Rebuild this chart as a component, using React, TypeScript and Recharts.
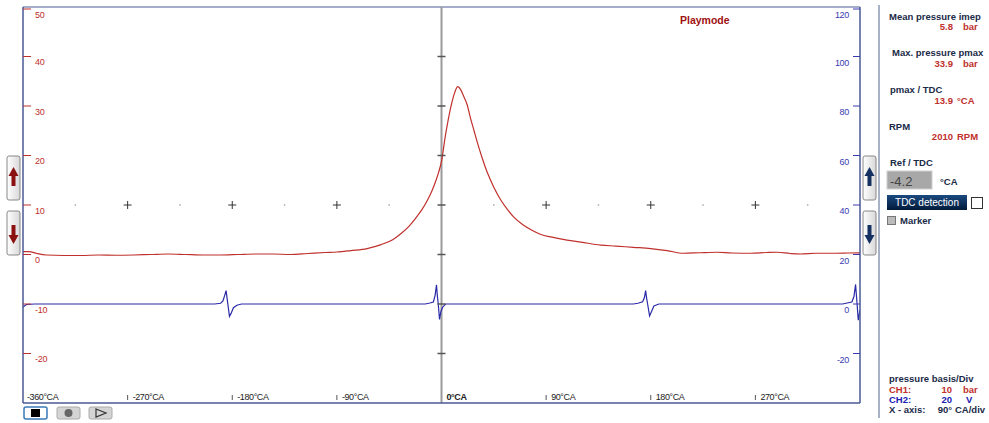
import { ComposedChart, Line, Scatter, XAxis, YAxis, ReferenceLine } from 'recharts';

// crank angle (°CA) and cylinder pressure (bar), CH1
const pressureAngles = [
  -360, -355, -348, -340, -325, -310, -295, -280, -265, -250, -235, -220, -205, -190, -175, -160, -145, -130,
  -115, -100, -90, -78, -64, -52, -42, -35, -28, -22, -17, -12, -8, -5, -2.5, 0, 3, 6, 9, 11.5, 13.9, 16.5,
  19, 22, 25, 28, 31, 35, 39.5, 45, 51, 57, 62, 70, 77, 85, 95, 108, 120, 137, 150, 165, 180, 194, 208, 222,
  237, 250, 266, 280, 289, 300, 309, 322, 337, 350, 360,
];
const pressureBar = [
  0.6, 0.6, 0.2, -0.1, -0.2, -0.2, -0.1, -0.15, -0.1, 0.0, 0.1, 0.0, -0.1, -0.1, 0.0, 0.1, 0.1, 0.0,
  0.2, 0.4, 0.5, 0.8, 1.2, 2.0, 3.0, 4.2, 5.7, 7.4, 9.0, 11.0, 13.0, 14.8, 16.6, 18.8, 23.5, 27.5, 30.8, 32.8, 33.9, 33.3,
  32.0, 30.3, 27.5, 25.0, 22.5, 19.5, 16.5, 13.6, 11.0, 9.0, 7.6, 6.0, 5.0, 4.1, 3.5, 2.9, 2.5, 1.9, 1.7, 1.45, 1.2, 0.8, 0.25, 0.35,
  0.45, 0.3, 0.25, 0.4, 0.45, 0.2, 0.1, 0.25, 0.25, 0.3, 0.35,
];

// trigger signal (V), CH2
const signalAngles = [
  -360, -357, -350, -195, -190, -188, -186.5, -185.3, -184.5, -183.8, -182.4, -181, -179, -176, -172,
  -14, -10, -7, -5.5, -4.3, -3.6, -2.8, -1.7, -0.5, 1, 3.5,
  165, 169, 173, 174.5, 175.6, 176.4, 177.3, 179, 180.5, 182.7, 187,
  345, 350, 353, 354.8, 356.2, 357, 357.5, 358.5, 360,
];
const signalVolt = [
  -1.2, -0.2, 0, 0, 0.3, 1.2, 3.5, 5.4, 2.5, 0, -5.0, -3.8, -1.5, -0.5, 0,
  0, 0.4, 0.8, 3.5, 7.7, 3.5, 0, -6.2, -3, -1.3, 0,
  0, 0.3, 0.9, 2.5, 5.4, 2.5, 0, -4.8, -3.2, -0.8, 0,
  0, 0.5, 0.8, 3, 7.9, 3, 0, -6.5, -2.4,
];

const angleTicks = [-360, -270, -180, -90, 0, 90, 180, 270];
const pressureTicks = [-20, -10, 0, 10, 20, 30, 40, 50];
const voltTicks = [-20, 0, 20, 40, 60, 80, 100, 120];
const crossAngles = [-270, -180, -90, 90, 180, 270];
const dotAngles = [-315, -225, -135, -45, 45, 135, 225, 315];
const centreMarks = [-20, -10, 0, 10, 20, 30, 40];

const pressureData = pressureAngles.map((a, i) => ({ angle: a, p: pressureBar[i] }));
const signalData = signalAngles.map((a, i) => ({ angle: a, v: signalVolt[i] }));
const crossData = crossAngles.map((a) => ({ angle: a, p: 10 }));
const dotData = dotAngles.map((a) => ({ angle: a, p: 10 }));
const markData = centreMarks.map((m) => ({ angle: 0, p: m }));

const FONT = '"Liberation Sans", Arial, sans-serif';
const RED = '#c0302c';
const BLUE = '#3a3ab0';
const NAVY = '#1a2a48';
const FRAME = '#4a5a95';

const LeftTick = (props: any) => {
  const { x, y, payload } = props;
  return (
    <g>
      <line x1={x} x2={x + 8} y1={y} y2={y} stroke={RED} strokeWidth={1} />
      <text x={x + 12} y={y + 8.5} fill={RED} fontSize={9} fontFamily={FONT} letterSpacing={-0.3}>
        {payload.value}
      </text>
    </g>
  );
};

const RightTick = (props: any) => {
  const { x, y, payload } = props;
  return (
    <g>
      <line x1={x - 7} x2={x} y1={y} y2={y} stroke={BLUE} strokeWidth={1} />
      <text x={x - 11} y={y + 9} fill={BLUE} fontSize={9} fontFamily={FONT} textAnchor="end" letterSpacing={-0.3}>
        {payload.value}
      </text>
    </g>
  );
};

const AngleTick = (props: any) => {
  const { x, y, payload } = props;
  const v = payload.value;
  return (
    <g>
      {v !== -360 && v !== 0 && <line x1={x} x2={x} y1={y - 8} y2={y - 3} stroke="#555" strokeWidth={1} />}
      <text
        x={x + (v === -360 ? 4 : 5)}
        y={y - 3}
        fill="#222"
        fontSize={9}
        fontFamily={FONT}
        fontWeight={v === 0 ? 'bold' : 'normal'}
        letterSpacing={-0.4}
      >
        {v + '°CA'}
      </text>
    </g>
  );
};

const Cross = (props: any) => {
  const { cx, cy } = props;
  return (
    <g stroke="#333" strokeWidth={1}>
      <line x1={cx - 4} x2={cx + 4} y1={cy} y2={cy} />
      <line x1={cx} x2={cx} y1={cy - 4} y2={cy + 4} />
    </g>
  );
};

const GridDot = (props: any) => <rect x={props.cx - 0.75} y={props.cy - 0.75} width={1.5} height={1.5} fill="#aaa" />;

const CentreMark = (props: any) => (
  <line x1={props.cx - 4} x2={props.cx + 4} y1={props.cy} y2={props.cy} stroke="#555" strokeWidth={1.5} />
);

const ArrowButton = ({ x, y, up, color }: { x: number; y: number; up: boolean; color: string }) => {
  const cx = x + 6.5;
  const head = up
    ? `M${cx - 5} ${y + 20} L${cx} ${y + 11} L${cx + 5} ${y + 20} Z`
    : `M${cx - 5} ${y + 24} L${cx} ${y + 33} L${cx + 5} ${y + 24} Z`;
  return (
    <g>
      <rect x={x} y={y} width={13} height={44} rx={2} fill="url(#btnGrad)" stroke="#888" />
      <path d={head} fill={color} />
      <rect x={cx - 2} y={up ? y + 19 : y + 14} width={4} height={11} fill={color} />
    </g>
  );
};

function Panel() {
  const t = { fontFamily: FONT, fontSize: 9.5 } as const;
  return (
    <svg width={989} height={423} style={{ position: 'absolute', left: 0, top: 0, pointerEvents: 'none' }}>
      <defs>
        <linearGradient id="btnGrad" x1="0" x2="1" y1="0" y2="0">
          <stop offset="0" stopColor="#ffffff" />
          <stop offset="1" stopColor="#d8d8d8" />
        </linearGradient>
        <linearGradient id="tdcGrad" x1="0" x2="0" y1="0" y2="1">
          <stop offset="0" stopColor="#1a4a80" />
          <stop offset="1" stopColor="#021a3a" />
        </linearGradient>
      </defs>
      <text x={680} y={24} fill="#a01010" fontWeight="bold" {...t} fontSize={10.5}>Playmode</text>

      <ArrowButton x={7} y={156} up color="#8b1010" />
      <ArrowButton x={7} y={211} up={false} color="#8b1010" />
      <ArrowButton x={863} y={156} up color="#143060" />
      <ArrowButton x={863} y={211} up={false} color="#143060" />

      <rect x={24} y={407} width={23} height={12} rx={2} fill="#fff" stroke="#3a7ab8" strokeWidth={1.5} />
      <rect x={31} y={409} width={9} height={8} fill="#000" />
      <rect x={57} y={407} width={23} height={12} rx={2} fill="#d4d4d4" stroke="#aaa" />
      <circle cx={68.5} cy={413} r={4} fill="#666" />
      <rect x={89} y={407} width={23} height={12} rx={2} fill="#d4d4d4" stroke="#aaa" />
      <path d="M96 409 L106 413 L96 417 Z" fill="none" stroke="#333" strokeWidth={1.2} />

      <line x1={879} x2={879} y1={5} y2={418} stroke="#8a9ab0" strokeWidth={1.5} />

      <g {...t} fontWeight="bold" fill={NAVY}>
        <text x={889} y={19.5}>Mean pressure imep</text>
        <text x={892} y={56}>Max. pressure pmax</text>
        <text x={890} y={93}>pmax / TDC</text>
        <text x={889} y={129.5}>RPM</text>
        <text x={890} y={166}>Ref / TDC</text>
        <text x={940} y={185}>°CA</text>
        <text x={900} y={224}>Marker</text>
        <text x={889} y={382}>pressure basis/Div</text>
        <text x={889} y={413}>X - axis:</text>
        <text x={952} y={413} textAnchor="end">90°</text>
        <text x={955} y={413}>CA/div</text>
      </g>
      <g {...t} fontWeight="bold" fill={RED}>
        <text x={953} y={30} textAnchor="end">5.8</text>
        <text x={963} y={30}>bar</text>
        <text x={953} y={67} textAnchor="end">33.9</text>
        <text x={963} y={67}>bar</text>
        <text x={953} y={103.5} textAnchor="end">13.9</text>
        <text x={957} y={103.5}>°CA</text>
        <text x={953} y={140} textAnchor="end">2010</text>
        <text x={957} y={140}>RPM</text>
        <text x={889} y={393}>CH1:</text>
        <text x={952} y={393} textAnchor="end">10</text>
        <text x={963} y={393}>bar</text>
      </g>
      <g {...t} fontWeight="bold" fill="#2020b0">
        <text x={889} y={403}>CH2:</text>
        <text x={952} y={403} textAnchor="end">20</text>
        <text x={966} y={403}>V</text>
      </g>

      <rect x={887} y={171} width={45} height={18} fill="#a8a8a8" stroke="#d0d0d0" />
      <text x={890} y={186} fill="#444" fontFamily={FONT} fontSize={13}>-4.2</text>
      <rect x={887} y={195} width={80} height={15} fill="url(#tdcGrad)" />
      <text x={927} y={206} fill="#fff" fontFamily={FONT} fontSize={10} textAnchor="middle">TDC detection</text>
      <rect x={971.5} y={197.5} width={11} height={11} fill="#fff" stroke="#333" />
      <rect x={887.5} y={216.5} width={8} height={8} fill="#bbb" stroke="#777" />
    </svg>
  );
}

export default function App() {
  return (
    <div style={{ position: 'absolute', left: 0, top: 0, width: 989, height: 423, background: '#fff' }}>
      <ComposedChart width={989} height={423} margin={{ top: 7, right: 128, bottom: 19, left: 22 }}>
        <XAxis
          dataKey="angle"
          type="number"
          domain={[-360, 360]}
          ticks={angleTicks}
          height={1}
          tickSize={0}
          tickMargin={0}
          tickLine={false}
          axisLine={{ stroke: FRAME, strokeWidth: 1.5 }}
          tick={<AngleTick />}
          allowDataOverflow
        />
        <YAxis
          yAxisId="left"
          dataKey="p"
          type="number"
          domain={[-30, 50]}
          ticks={pressureTicks}
          width={1}
          tickSize={0}
          tickMargin={0}
          tickLine={false}
          axisLine={{ stroke: FRAME, strokeWidth: 1.5 }}
          tick={<LeftTick />}
          allowDataOverflow
        />
        <YAxis
          yAxisId="right"
          orientation="right"
          dataKey="v"
          type="number"
          domain={[-40, 120]}
          ticks={voltTicks}
          width={1}
          tickSize={0}
          tickMargin={0}
          tickLine={false}
          axisLine={{ stroke: FRAME, strokeWidth: 1.5 }}
          tick={<RightTick />}
          allowDataOverflow
        />
        <ReferenceLine yAxisId="left" y={50} stroke={FRAME} strokeWidth={1} />
        <ReferenceLine yAxisId="left" x={0} stroke="#9a9a9a" strokeWidth={2} />
        <Scatter yAxisId="left" data={markData} dataKey="p" shape={<CentreMark />} isAnimationActive={false} />
        <Scatter yAxisId="left" data={crossData} dataKey="p" shape={<Cross />} isAnimationActive={false} />
        <Scatter yAxisId="left" data={dotData} dataKey="p" shape={<GridDot />} isAnimationActive={false} />
        <Line
          yAxisId="right"
          data={signalData}
          dataKey="v"
          type="linear"
          stroke="#2a2aa8"
          strokeWidth={1.2}
          dot={false}
          isAnimationActive={false}
        />
        <Line
          yAxisId="left"
          data={pressureData}
          dataKey="p"
          type="monotone"
          stroke={RED}
          strokeWidth={1.2}
          dot={false}
          isAnimationActive={false}
        />
      </ComposedChart>
      <Panel />
    </div>
  );
}
